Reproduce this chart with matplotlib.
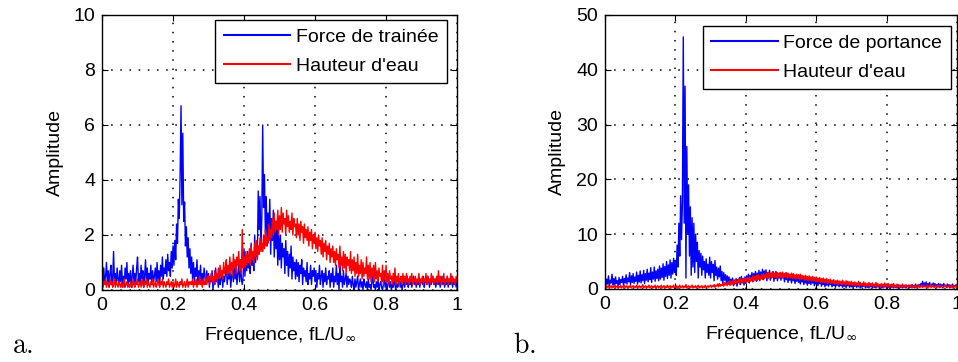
import matplotlib
matplotlib.use('Agg')
import matplotlib.pyplot as plt
import numpy as np

plt.rcParams['font.family'] = ['Liberation Sans', 'DejaVu Sans']
plt.rcParams['mathtext.fontset'] = 'dejavusans'

# frequency axis, step 0.0025
freq = np.linspace(0, 1, 401)

# panel a : drag force and water height spectra
trainee = [
    1.3, 0.3, 0.8, 0.2, 0.5, 1.0, 0.3, 0.7, 0.1, 0.6, 0.9, 0.2, 0.4, 1.4, 0.3, 0.6, 0.2, 0.8, 0.4, 0.2,
    0.7, 0.3, 0.9, 0.2, 0.5, 0.1, 0.8, 0.4, 1.0, 0.2, 0.6, 0.3, 0.7, 0.1, 0.5, 0.9, 0.2, 0.6, 0.3, 0.8,
    1.2, 0.3, 0.6, 0.2, 0.9, 0.4, 0.7, 0.1, 0.5, 1.1, 0.3, 0.8, 0.2, 0.6, 0.4, 0.9, 0.2, 0.7, 0.3, 0.5,
    0.8, 0.3, 1.0, 0.4, 0.7, 0.2, 0.9, 0.5, 1.2, 0.4, 0.8, 0.6, 1.1, 0.5, 1.3, 0.7, 1.0, 0.5, 1.4, 0.8,
    1.6, 0.9, 1.8, 1.1, 2.4, 1.7, 3.3, 2.6, 4.2, 6.7, 3.1, 5.7, 2.5, 3.2, 1.6, 2.3, 1.2, 1.9, 0.8, 1.5,
    0.6, 1.2, 0.4, 1.0, 0.3, 0.8, 0.5, 1.1, 0.2, 0.7, 0.4, 0.9, 0.2, 0.6, 0.3, 0.8, 0.5, 0.2, 0.7, 0.3,
    0.6, 0.1, 0.5, 0.3, 0.7, 0.0, 0.4, 0.2, 0.8, 0.3, 0.5, 0.1, 0.6, 0.2, 0.4, 0.7, 0.1, 0.5, 0.3, 0.6,
    0.9, 0.2, 0.6, 0.4, 0.8, 0.1, 0.5, 0.7, 0.3, 1.0, 0.4, 0.8, 0.2, 0.6, 0.9, 0.3, 1.1, 0.4, 0.2, 0.5,
    1.5, 0.5, 1.2, 0.7, 1.4, 0.8, 1.1, 0.6, 1.7, 0.9, 1.3, 0.7, 2.0, 1.0, 1.6, 1.2, 3.6, 2.2, 3.4, 1.5,
    2.6, 6.0, 3.0, 4.2, 2.1, 3.4, 1.6, 2.8, 1.9, 3.3, 1.3, 2.6, 1.8, 2.9, 1.2, 2.4, 1.5, 2.2, 0.9, 2.0,
    1.1, 2.0, 0.8, 1.7, 1.2, 1.5, 0.6, 1.8, 0.9, 1.4, 0.5, 1.3, 0.8, 1.6, 0.4, 1.2, 0.7, 1.0, 0.4, 1.1,
    0.5, 1.0, 0.3, 0.9, 0.6, 1.1, 0.2, 0.8, 0.5, 0.7, 0.3, 1.0, 0.2, 0.6, 0.4, 0.9, 0.2, 0.7, 0.5, 0.8,
    0.3, 0.7, 0.1, 0.6, 0.4, 0.9, 0.2, 0.5, 0.7, 0.1, 0.6, 0.3, 0.8, 0.2, 0.5, 0.4, 0.7, 0.1, 0.6, 0.3,
    0.8, 0.1, 0.5, 0.3, 0.9, 0.2, 0.6, 0.0, 1.0, 0.3, 0.5, 0.1, 0.7, 0.2, 0.4, 0.6, 0.1, 0.5, 0.2, 0.4,
    0.3, 0.1, 0.5, 0.2, 0.0, 0.4, 0.1, 0.3, 0.5, 0.0, 0.2, 0.4, 0.1, 0.3, 0.0, 0.4, 0.2, 0.1, 0.3, 0.0,
    0.4, 0.1, 0.2, 0.0, 0.3, 0.5, 0.1, 0.2, 0.0, 0.3, 0.1, 0.4, 0.0, 0.2, 0.3, 0.1, 0.0, 0.2, 0.4, 0.1,
    0.3, 0.0, 0.2, 0.4, 0.1, 0.3, 0.0, 0.2, 0.1, 0.4, 0.2, 0.0, 0.3, 0.1, 0.2, 0.4, 0.1, 0.3, 0.0, 0.2,
    0.3, 0.1, 0.4, 0.2, 0.5, 0.1, 0.3, 0.2, 0.4, 0.1, 0.3, 0.5, 0.2, 0.4, 0.1, 0.3, 0.2, 0.4, 0.1, 0.3,
    0.4, 0.2, 0.5, 0.1, 0.3, 0.4, 0.2, 0.5, 0.3, 0.1, 0.4, 0.2, 0.5, 0.3, 0.2, 0.4, 0.1, 0.3, 0.5, 0.2,
    0.4, 0.1, 0.3, 0.5, 0.2, 0.4, 0.1, 0.3, 0.2, 0.5, 0.1, 0.4, 0.2, 0.3, 0.5, 0.1, 0.4, 0.2, 0.3, 0.1,
    0.3,
]
hauteur_a = [
    0.5, 0.1, 0.3, 0.2, 0.4, 0.1, 0.3, 0.2, 0.1, 0.4, 0.2, 0.3, 0.1, 0.2, 0.4, 0.1, 0.3, 0.2, 0.1, 0.3,
    0.2, 0.1, 0.3, 0.1, 0.2, 0.4, 0.1, 0.2, 0.3, 0.1, 0.2, 0.1, 0.3, 0.2, 0.1, 0.4, 0.2, 0.1, 0.3, 0.2,
    0.4, 0.1, 0.2, 0.3, 0.1, 0.4, 0.2, 0.1, 0.3, 0.2, 0.4, 0.1, 0.3, 0.2, 0.1, 0.3, 0.2, 0.4, 0.1, 0.2,
    0.3, 0.1, 0.2, 0.4, 0.2, 0.1, 0.3, 0.2, 0.4, 0.1, 0.3, 0.2, 0.1, 0.3, 0.2, 0.4, 0.1, 0.2, 0.3, 0.1,
    0.3, 0.1, 0.2, 0.4, 0.1, 0.3, 0.2, 0.1, 0.3, 0.2, 0.4, 0.1, 0.2, 0.3, 0.1, 0.2, 0.4, 0.1, 0.3, 0.2,
    0.3, 0.2, 0.4, 0.1, 0.3, 0.2, 0.4, 0.1, 0.3, 0.2, 0.5, 0.2, 0.3, 0.1, 0.4, 0.2, 0.3, 0.5, 0.2, 0.4,
    0.5, 0.2, 0.4, 0.6, 0.3, 0.5, 0.2, 0.7, 0.4, 0.6, 0.3, 0.8, 0.4, 0.9, 0.5, 0.7, 0.4, 1.0, 0.6, 0.8,
    1.1, 0.5, 0.9, 0.6, 1.2, 0.7, 1.0, 0.5, 1.3, 0.8, 1.1, 0.6, 1.2, 0.9, 1.4, 0.7, 1.1, 0.6, 2.2, 0.8,
    1.2, 0.8, 1.4, 0.9, 1.3, 1.0, 1.5, 0.9, 1.6, 1.1, 1.4, 1.0, 1.7, 1.2, 1.8, 1.1, 1.6, 1.3, 1.9, 1.4,
    1.7, 1.4, 2.0, 1.5, 2.2, 1.6, 1.9, 1.7, 2.4, 1.8, 2.2, 1.9, 2.6, 2.0, 2.8, 2.1, 2.5, 2.2, 2.9, 2.0,
    2.7, 2.2, 3.0, 2.1, 2.8, 2.4, 2.6, 2.0, 2.9, 2.3, 2.7, 2.1, 2.5, 2.2, 2.8, 2.0, 2.6, 2.3, 2.4, 1.9,
    2.6, 2.0, 2.4, 1.8, 2.5, 2.1, 2.3, 1.7, 2.4, 1.9, 2.2, 1.8, 2.3, 1.6, 2.1, 1.8, 2.2, 1.5, 2.0, 1.7,
    2.1, 1.5, 1.9, 1.4, 2.0, 1.6, 1.8, 1.3, 1.9, 1.2, 1.7, 1.4, 1.8, 1.1, 1.6, 1.3, 1.7, 1.0, 1.5, 1.2,
    1.6, 1.0, 1.4, 0.9, 1.5, 1.1, 1.3, 0.8, 1.6, 0.9, 1.2, 0.7, 1.4, 0.8, 1.3, 0.6, 1.2, 0.9, 1.1, 0.7,
    1.4, 0.6, 1.1, 0.7, 1.2, 0.5, 1.0, 0.6, 1.3, 0.5, 0.9, 0.6, 1.1, 0.4, 1.0, 0.5, 0.8, 0.6, 1.2, 0.4,
    0.9, 0.4, 1.0, 0.3, 0.8, 0.5, 0.9, 0.3, 1.0, 0.4, 0.7, 0.3, 0.8, 0.5, 0.6, 0.3, 0.9, 0.2, 0.7, 0.4,
    0.9, 0.3, 0.6, 0.2, 0.7, 0.4, 0.5, 0.2, 0.6, 0.3, 0.8, 0.2, 0.5, 0.3, 0.6, 0.2, 0.4, 0.5, 0.2, 0.6,
    0.3, 0.5, 0.2, 0.6, 0.3, 0.4, 0.2, 0.5, 0.3, 0.6, 0.2, 0.4, 0.3, 0.5, 0.2, 0.4, 0.3, 0.6, 0.2, 0.4,
    0.3, 0.5, 0.2, 0.4, 0.3, 0.6, 0.2, 0.5, 0.3, 0.4, 0.2, 0.6, 0.3, 0.5, 0.2, 0.4, 0.3, 0.5, 0.2, 0.7,
    0.3, 0.5, 0.2, 0.4, 0.3, 0.6, 0.2, 0.4, 0.3, 0.5, 0.2, 0.4, 0.3, 0.6, 0.2, 0.5, 0.3, 0.4, 0.2, 0.5,
    0.3,
]

# panel b : lift force and water height spectra
portance = [
    2.5, 0.6, 1.8, 0.9, 2.4, 0.5, 1.6, 1.1, 2.7, 0.7, 1.9, 0.4, 2.2, 1.0, 1.5, 0.6, 2.1, 0.8, 1.7, 1.2,
    2.3, 0.7, 1.9, 1.1, 2.6, 0.9, 2.0, 1.3, 3.0, 0.8, 2.4, 1.2, 2.8, 1.0, 2.2, 1.4, 3.1, 0.9, 2.5, 1.3,
    3.3, 1.1, 2.6, 1.5, 3.4, 1.0, 2.8, 1.6, 3.6, 1.3, 2.9, 1.7, 3.9, 1.2, 3.1, 1.8, 4.0, 1.4, 3.3, 1.9,
    3.6, 1.5, 4.2, 1.8, 3.8, 2.1, 4.6, 1.6, 4.1, 2.3, 5.0, 1.9, 4.4, 2.5, 5.3, 2.0, 4.8, 2.7, 5.6, 3.0,
    5.2, 2.5, 8.0, 4.0, 12.0, 6.0, 17.0, 9.0, 16.0, 46.0, 12.0, 37.0, 2.0, 26.0, 10.0, 19.0, 6.0, 15.0, 2.5, 13.0,
    4.0, 12.0, 3.0, 10.0, 5.0, 8.5, 2.0, 7.0, 4.0, 6.5, 2.5, 6.0, 3.5, 5.0, 2.0, 5.5, 3.0, 4.5, 2.5, 5.8,
    2.0, 5.0, 3.0, 4.5, 1.5, 5.2, 2.5, 4.0, 1.8, 3.8, 2.2, 4.2, 1.5, 3.2, 1.0, 3.0, 1.6, 2.6, 1.0, 2.4,
    1.2, 2.2, 0.7, 1.8, 1.1, 2.0, 0.6, 1.6, 1.0, 1.9, 0.5, 1.7, 1.2, 2.1, 0.8, 2.3, 1.1, 1.9, 0.7, 2.2,
    1.0, 2.4, 1.5, 2.7, 1.1, 2.5, 1.6, 3.0, 1.3, 2.8, 1.8, 3.2, 1.4, 2.9, 1.9, 3.4, 1.5, 3.1, 2.0, 3.6,
    1.7, 3.3, 2.2, 3.5, 1.5, 3.0, 2.0, 3.4, 1.6, 2.9, 2.1, 3.2, 1.4, 2.8, 1.9, 3.1, 1.5, 2.7, 2.0, 3.0,
    1.6, 2.8, 2.0, 2.6, 1.3, 2.9, 1.7, 2.5, 1.2, 2.7, 1.6, 2.3, 1.1, 2.6, 1.5, 2.2, 1.0, 2.4, 1.4, 2.1,
    1.2, 2.2, 0.9, 2.0, 1.3, 1.8, 0.8, 2.1, 1.1, 1.7, 0.7, 1.9, 1.0, 1.6, 0.8, 1.8, 1.1, 1.5, 0.6, 1.7,
    0.9, 1.6, 0.6, 1.4, 1.0, 1.5, 0.5, 1.3, 0.8, 1.4, 0.4, 1.2, 0.7, 1.3, 0.5, 1.1, 0.8, 1.2, 0.4, 1.0,
    0.6, 1.2, 0.3, 1.0, 0.7, 1.1, 0.4, 0.9, 0.6, 1.0, 0.3, 0.8, 0.5, 1.1, 0.2, 0.9, 0.6, 0.8, 0.3, 0.9,
    0.4, 0.9, 0.2, 0.8, 0.5, 1.0, 0.3, 0.7, 0.4, 0.8, 0.2, 0.9, 0.3, 0.7, 0.5, 0.6, 0.2, 0.8, 0.3, 0.7,
    0.2, 0.7, 0.4, 0.6, 0.2, 0.8, 0.3, 0.5, 0.2, 0.7, 0.4, 0.6, 0.1, 0.7, 0.3, 0.5, 0.2, 0.6, 0.4, 0.7,
    0.2, 0.6, 0.3, 0.5, 0.1, 0.7, 0.3, 0.4, 0.2, 0.6, 0.3, 0.5, 0.2, 0.7, 0.1, 0.5, 0.3, 0.6, 0.2, 0.5,
    0.3, 0.6, 0.2, 0.5, 0.4, 0.7, 0.2, 0.6, 0.3, 0.8, 0.4, 0.6, 0.2, 0.9, 0.3, 0.7, 0.5, 0.8, 0.3, 1.0,
    0.5, 1.4, 0.4, 1.1, 0.6, 1.3, 0.3, 1.0, 0.5, 1.2, 0.4, 0.9, 0.6, 1.1, 0.3, 1.0, 0.5, 0.8, 0.4, 1.0,
    0.3, 0.9, 0.4, 0.8, 0.2, 1.0, 0.5, 0.7, 0.3, 0.9, 0.4, 0.8, 0.2, 0.7, 0.5, 0.9, 0.3, 0.6, 0.4, 0.8,
    0.5,
]
hauteur_b = [
    0.8, 0.2, 0.5, 0.3, 0.7, 0.1, 0.4, 0.6, 0.2, 0.5, 0.3, 0.7, 0.2, 0.4, 0.6, 0.1, 0.5, 0.3, 0.6, 0.2,
    0.5, 0.3, 0.7, 0.2, 0.4, 0.6, 0.1, 0.5, 0.3, 0.7, 0.2, 0.4, 0.6, 0.2, 0.5, 0.3, 0.7, 0.1, 0.4, 0.6,
    0.2, 0.5, 0.3, 0.8, 0.2, 0.4, 0.6, 0.1, 0.5, 0.3, 0.7, 0.2, 0.4, 0.6, 0.2, 0.5, 0.3, 0.7, 0.1, 0.4,
    0.6, 0.2, 0.5, 0.3, 0.7, 0.2, 0.4, 0.6, 0.1, 0.5, 0.3, 0.7, 0.2, 0.4, 0.6, 0.2, 0.5, 0.3, 0.7, 0.2,
    0.4, 0.6, 0.1, 0.5, 0.3, 0.7, 0.2, 0.4, 0.6, 0.2, 0.5, 0.3, 0.8, 0.2, 0.4, 0.6, 0.1, 0.5, 0.3, 0.7,
    0.2, 0.5, 0.3, 0.6, 0.2, 0.4, 0.7, 0.2, 0.5, 0.3, 0.6, 0.2, 0.5, 0.3, 0.7, 0.2, 0.4, 0.6, 0.3, 0.5,
    0.7, 0.3, 0.6, 0.4, 0.8, 0.3, 0.7, 0.5, 0.9, 0.4, 1.0, 0.5, 0.8, 0.6, 1.1, 0.5, 1.2, 0.7, 1.0, 0.6,
    1.3, 0.8, 1.5, 0.7, 1.4, 0.9, 1.6, 0.8, 1.7, 1.0, 1.5, 1.1, 1.8, 0.9, 1.9, 1.2, 1.7, 1.1, 2.0, 1.2,
    1.9, 1.3, 2.1, 1.2, 2.2, 1.4, 2.0, 1.5, 2.4, 1.4, 2.3, 1.6, 2.5, 1.5, 2.6, 1.7, 2.4, 1.8, 2.7, 1.7,
    2.8, 1.9, 2.6, 2.0, 2.9, 1.8, 3.0, 2.1, 2.8, 2.0, 3.1, 2.2, 2.9, 2.1, 3.2, 2.0, 3.0, 2.2, 2.9, 2.1,
    3.0, 2.0, 3.1, 2.1, 2.8, 2.2, 3.0, 1.9, 2.9, 2.1, 2.7, 2.0, 2.9, 1.9, 2.8, 2.0, 2.6, 1.8, 2.7, 1.9,
    2.6, 1.8, 2.7, 1.7, 2.5, 1.8, 2.4, 1.6, 2.5, 1.7, 2.3, 1.5, 2.4, 1.6, 2.2, 1.4, 2.3, 1.5, 2.1, 1.4,
    2.2, 1.3, 2.0, 1.4, 2.1, 1.2, 1.9, 1.3, 2.0, 1.1, 1.8, 1.2, 1.9, 1.0, 1.7, 1.2, 1.8, 1.0, 1.6, 1.1,
    1.7, 0.9, 1.5, 1.0, 1.6, 0.8, 1.5, 0.9, 1.4, 0.8, 1.6, 0.9, 1.3, 0.7, 1.5, 0.8, 1.4, 0.7, 1.3, 0.8,
    1.4, 0.7, 1.2, 0.6, 1.3, 0.7, 1.1, 0.6, 1.4, 0.5, 1.2, 0.6, 1.0, 0.7, 1.3, 0.5, 1.1, 0.6, 1.0, 0.5,
    1.2, 0.5, 1.0, 0.6, 1.1, 0.4, 0.9, 0.5, 1.2, 0.4, 1.0, 0.5, 0.8, 0.4, 1.0, 0.5, 0.9, 0.3, 1.1, 0.4,
    0.9, 0.4, 1.0, 0.3, 0.8, 0.5, 0.9, 0.3, 1.0, 0.4, 0.7, 0.3, 0.9, 0.4, 0.8, 0.3, 0.7, 0.4, 0.9, 0.3,
    0.7, 0.3, 0.8, 0.4, 0.6, 0.3, 0.7, 0.4, 0.8, 0.2, 0.6, 0.3, 0.7, 0.4, 0.6, 0.2, 0.8, 0.3, 0.6, 0.4,
    0.6, 0.3, 0.7, 0.4, 0.5, 0.3, 0.7, 0.2, 0.6, 0.4, 0.8, 0.3, 0.6, 0.4, 0.5, 0.3, 0.7, 0.2, 0.6, 0.4,
    0.7, 0.3, 0.6, 0.4, 0.5, 0.3, 0.7, 0.4, 0.6, 0.3, 0.5, 0.4, 0.7, 0.3, 0.6, 0.2, 0.7, 0.4, 0.5, 0.3,
    0.7,
]

xticks = [0, 0.2, 0.4, 0.6, 0.8, 1]
xticklabels = ['0', '0.2', '0.4', '0.6', '0.8', '1']
yticks_a = [0, 2, 4, 6, 8, 10]
yticks_b = [0, 10, 20, 30, 40, 50]

fig = plt.figure(figsize=(9.58, 3.62), dpi=100)
ax1 = fig.add_axes([0.1065, 0.1989, 0.3706, 0.7597])
ax2 = fig.add_axes([0.6315, 0.2017, 0.3674, 0.7570])

fs = 14


def style(ax, yticks, ylim):
    ax.set_xlim(0, 1)
    ax.set_ylim(*ylim)
    ax.set_xticks(xticks)
    ax.set_xticklabels(xticklabels)
    ax.set_yticks(yticks)
    ax.tick_params(direction='in', top=True, right=True, length=4,
                   width=0.8, labelsize=fs, pad=5)
    ax.grid(True, color='black', linestyle=(0, (1, 5)), linewidth=1.1)
    for s in ax.spines.values():
        s.set_linewidth(1.0)
    ax.set_xlabel(r'Fréquence, fL/U$_\infty$', fontsize=fs, labelpad=8)
    ax.set_ylabel('Amplitude', fontsize=fs, labelpad=7)


def legend(ax, anchor):
    leg = ax.legend(loc='upper right', bbox_to_anchor=anchor, fontsize=fs,
                    fancybox=False, edgecolor='black', framealpha=1,
                    handlelength=3.4, handletextpad=0.3, labelspacing=0.55,
                    borderpad=0.45, borderaxespad=0)
    leg.get_frame().set_linewidth(1.0)
    for line in leg.get_lines():
        line.set_linewidth(1.5)


ax1.plot(freq, trainee, color='blue', linewidth=1.0, label='Force de trainée')
ax1.plot(freq, hauteur_a, color='red', linewidth=1.0, label="Hauteur d'eau")
style(ax1, yticks_a, (0, 10))
legend(ax1, (0.972, 0.982))

ax2.plot(freq, portance, color='blue', linewidth=1.0, label='Force de portance')
ax2.plot(freq, hauteur_b, color='red', linewidth=1.0, label="Hauteur d'eau")
style(ax2, yticks_b, (0, 50))
legend(ax2, (0.983, 0.96))

fig.text(12 / 958, 1 - 353 / 362, r'$\mathrm{a.}$', fontsize=20,
         math_fontfamily='cm', ha='left', va='baseline')
fig.text(513 / 958, 1 - 353 / 362, r'$\mathrm{b.}$', fontsize=20,
         math_fontfamily='cm', ha='left', va='baseline')

fig.savefig('out.png', dpi=100)
